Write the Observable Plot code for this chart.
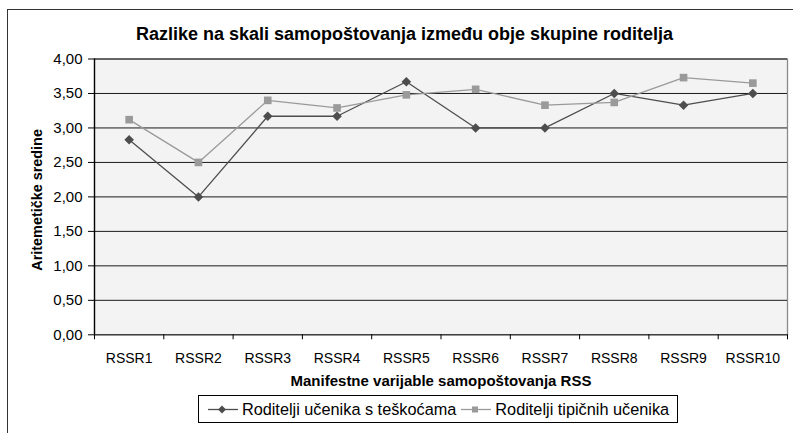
<!DOCTYPE html>
<html>
<head>
<meta charset="utf-8">
<script src="https://cdn.jsdelivr.net/npm/d3@7"></script>
<script src="https://cdn.jsdelivr.net/npm/@observablehq/plot@0.6"></script>
<style>
  html, body { margin: 0; padding: 0; background: #fff; }
  #wrap { position: relative; width: 793px; height: 433px; overflow: hidden; font-family: "Liberation Sans", Arial, sans-serif; }
  #border { position: absolute; left: 7px; top: 9px; width: 800px; height: 440px; border-left: 1.5px solid #333; border-top: 1.5px solid #333; box-sizing: border-box; }
  #title { position: absolute; left: 8px; width: 793px; top: 24px; text-align: center; font-weight: bold; font-size: 18px; color: #000; white-space: nowrap; }
  #legend { position: absolute; left: 198px; top: 395px; width: 480px; height: 28px; border: 1px solid #000; box-sizing: border-box; display: flex; align-items: center; justify-content: center; font-size: 16.3px; white-space: nowrap; background: #fff; }
  #legend .item { display: flex; align-items: center; }
  #legend svg { margin: 0 3px 0 0; }
  #plot { position: absolute; left: 0; top: 0; }
</style>
</head>
<body>
<div id="wrap">
  <div id="plot"></div>
  <div id="border"></div>
  <div id="title"></div>
  <div id="legend"></div>
</div>
<script>
const titleText = "Razlike na skali samopoštovanja između obje skupine roditelja";
const xTitle = "Manifestne varijable samopoštovanja RSS";
const yTitle = "Aritemetičke sredine";
const categories = ["RSSR1","RSSR2","RSSR3","RSSR4","RSSR5","RSSR6","RSSR7","RSSR8","RSSR9","RSSR10"];
const seriesNames = ["Roditelji učenika s teškoćama", "Roditelji tipičnih učenika"];
const teskoce = [2.83, 2.00, 3.17, 3.17, 3.67, 3.00, 3.00, 3.50, 3.33, 3.50];
const tipicni = [3.12, 2.50, 3.40, 3.29, 3.48, 3.56, 3.33, 3.37, 3.73, 3.65];
const yTicks = [0, 0.5, 1, 1.5, 2, 2.5, 3, 3.5, 4];
const colors = ["#4d4d4d", "#9a9a9a"];
const symbols = ["diamond2", "square"];

const rows = [];
categories.forEach((c, i) => {
  rows.push({cat: c, pos: i + 0.5, value: teskoce[i], series: seriesNames[0]});
  rows.push({cat: c, pos: i + 0.5, value: tipicni[i], series: seriesNames[1]});
});
const centers = categories.map((c, i) => i + 0.5);
const bounds = [0, ...categories.map((c, i) => i + 1)];
const fmt = d => d.toFixed(2).replace(".", ",");

const plot = Plot.plot({
  width: 793,
  height: 433,
  marginLeft: 94,
  marginRight: 6,
  marginTop: 58.5,
  marginBottom: 98.7,
  style: {fontFamily: "Liberation Sans, Arial, sans-serif", background: "transparent", overflow: "visible"},
  x: {domain: [0, categories.length], axis: null},
  y: {domain: [0, 4], axis: null},
  marks: [
    Plot.frame({fill: "#f2f3f2", stroke: "#8a8a8a", strokeWidth: 1.3}),
    Plot.ruleY(yTicks, {stroke: "#1a1a1a", strokeWidth: 1}),
    Plot.ruleX([0], {stroke: "#000", strokeWidth: 1.3}),
    Plot.axisY({ticks: yTicks, tickFormat: fmt, tickSize: 6, tickPadding: 6, fontSize: 15, stroke: "#000", fill: "#000", label: null}),
    Plot.axisX({ticks: bounds, tickFormat: () => "", tickSize: 5, stroke: "#000", label: null}),
    Plot.axisX({ticks: centers, tickFormat: d => categories[Math.round(d - 0.5)], tickSize: 0, tickPadding: 18, fontSize: 14, fill: "#000", label: null}),
    Plot.text([xTitle], {frameAnchor: "bottom", dy: 46, fontWeight: "bold", fontSize: 15, fill: "#000", lineAnchor: "middle"}),
    Plot.text([yTitle], {frameAnchor: "left", dx: -57, dy: 3, rotate: -90, textAnchor: "middle", fontWeight: "bold", fontSize: 14.4, fill: "#000"}),
    Plot.line(rows, {x: "pos", y: "value", z: "series", stroke: "series", strokeWidth: 1.3}),
    Plot.dot(rows, {x: "pos", y: "value", fill: "series", symbol: "series", r: 4.3, stroke: "none"})
  ],
  color: {domain: seriesNames, range: colors},
  symbol: {domain: seriesNames, range: symbols}
});
document.getElementById("plot").appendChild(plot);
document.getElementById("title").textContent = titleText;

const legend = document.getElementById("legend");
seriesNames.forEach((name, i) => {
  const item = document.createElement("div");
  item.className = "item";
  const sym = i === 0
    ? `<path d="M15 6.5 L19 10.5 L15 14.5 L11 10.5 Z" fill="${colors[i]}"/>`
    : `<rect x="12" y="7.5" width="6" height="6" fill="${colors[i]}"/>`;
  item.innerHTML = `<svg width="32" height="21"><line x1="1" x2="31" y1="10.5" y2="10.5" stroke="${colors[i]}" stroke-width="1.3"/>${sym}</svg><span style="margin-right:${i === 0 ? 4 : 0}px">${name}</span>`;
  legend.appendChild(item);
});
</script>
</body>
</html>
